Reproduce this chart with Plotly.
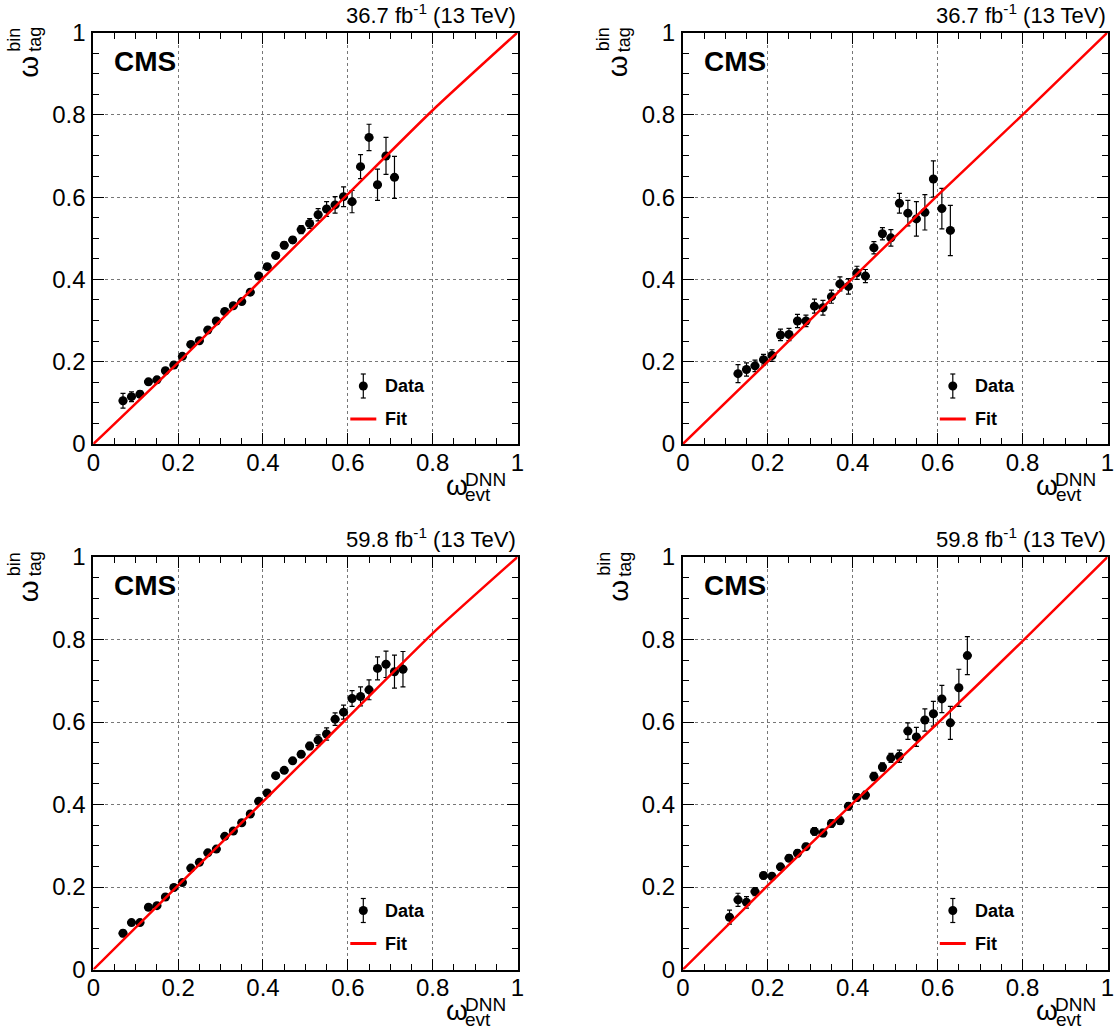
import plotly.graph_objects as go

W, H = 1120, 1036

# ---------------- data ----------------
x_tl = [0.07, 0.09, 0.11, 0.13, 0.15, 0.17, 0.19, 0.21, 0.23, 0.25, 0.27, 0.29, 0.31, 0.33, 0.35, 0.37,
        0.39, 0.41, 0.43, 0.45, 0.47, 0.49, 0.51, 0.53, 0.55, 0.57, 0.59, 0.61, 0.63, 0.65, 0.67, 0.69, 0.71]
y_tl = [0.105, 0.115, 0.121, 0.151, 0.156, 0.178, 0.192, 0.213, 0.242, 0.251, 0.277, 0.299, 0.322, 0.336,
        0.346, 0.369, 0.408, 0.431, 0.458, 0.483, 0.496, 0.521, 0.536, 0.557, 0.571, 0.581, 0.601, 0.589,
        0.674, 0.745, 0.630, 0.700, 0.648]
e_tl = [0.018, 0.012, 0.008, 0.007, 0.007, 0.006, 0.006, 0.006, 0.006, 0.006, 0.006, 0.006, 0.006, 0.006,
        0.006, 0.007, 0.007, 0.007, 0.007, 0.008, 0.008, 0.010, 0.012, 0.015, 0.018, 0.020, 0.024, 0.027,
        0.029, 0.032, 0.038, 0.045, 0.051]

x_tr = [0.13, 0.15, 0.17, 0.19, 0.21, 0.23, 0.25, 0.27, 0.29, 0.31, 0.33, 0.35, 0.37, 0.39, 0.41, 0.43,
        0.45, 0.47, 0.49, 0.51, 0.53, 0.55, 0.57, 0.59, 0.61, 0.63]
y_tr = [0.171, 0.181, 0.190, 0.205, 0.215, 0.265, 0.266, 0.299, 0.299, 0.335, 0.331, 0.358, 0.389, 0.383,
        0.416, 0.408, 0.477, 0.511, 0.501, 0.585, 0.561, 0.547, 0.563, 0.644, 0.572, 0.519]
e_tr = [0.022, 0.016, 0.014, 0.013, 0.014, 0.014, 0.015, 0.016, 0.014, 0.017, 0.018, 0.016, 0.017, 0.019,
        0.016, 0.016, 0.015, 0.015, 0.020, 0.024, 0.031, 0.042, 0.043, 0.044, 0.049, 0.061]

x_bl = [0.07, 0.09, 0.11, 0.13, 0.15, 0.17, 0.19, 0.21, 0.23, 0.25, 0.27, 0.29, 0.31, 0.33, 0.35, 0.37,
        0.39, 0.41, 0.43, 0.45, 0.47, 0.49, 0.51, 0.53, 0.55, 0.57, 0.59, 0.61, 0.63, 0.65, 0.67, 0.69,
        0.71, 0.73]
y_bl = [0.088, 0.114, 0.114, 0.151, 0.155, 0.176, 0.199, 0.211, 0.246, 0.260, 0.283, 0.292, 0.323, 0.336,
        0.356, 0.377, 0.408, 0.428, 0.470, 0.483, 0.506, 0.522, 0.542, 0.556, 0.571, 0.607, 0.624, 0.657,
        0.662, 0.678, 0.730, 0.740, 0.722, 0.728]
e_bl = [0.008, 0.006, 0.006, 0.006, 0.005, 0.005, 0.005, 0.005, 0.005, 0.005, 0.005, 0.005, 0.005, 0.005,
        0.005, 0.005, 0.005, 0.005, 0.006, 0.006, 0.006, 0.007, 0.009, 0.013, 0.015, 0.015, 0.017, 0.019,
        0.023, 0.024, 0.028, 0.032, 0.040, 0.043]

x_br = [0.11, 0.13, 0.15, 0.17, 0.19, 0.21, 0.23, 0.25, 0.27, 0.29, 0.31, 0.33, 0.35, 0.37, 0.39, 0.41,
        0.43, 0.45, 0.47, 0.49, 0.51, 0.53, 0.55, 0.57, 0.59, 0.61, 0.63, 0.65, 0.67]
y_br = [0.127, 0.169, 0.163, 0.189, 0.228, 0.226, 0.249, 0.270, 0.282, 0.298, 0.335, 0.331, 0.354, 0.361,
        0.396, 0.417, 0.423, 0.468, 0.491, 0.513, 0.517, 0.578, 0.564, 0.605, 0.620, 0.656, 0.598, 0.683,
        0.761]
e_br = [0.017, 0.016, 0.014, 0.010, 0.008, 0.008, 0.008, 0.008, 0.008, 0.008, 0.009, 0.009, 0.009, 0.009,
        0.009, 0.009, 0.009, 0.010, 0.010, 0.011, 0.015, 0.020, 0.023, 0.027, 0.030, 0.033, 0.040, 0.045,
        0.046]

fit_x = [0.0, 0.2, 0.4, 0.6, 0.8, 1.0]
fit_tl = [0.0, 0.198, 0.403, 0.607, 0.811, 1.0]
fit_tr = [0.0, 0.200, 0.403, 0.604, 0.800, 1.0]
fit_bl = [0.0, 0.204, 0.407, 0.611, 0.815, 1.0]
fit_br = [0.0, 0.204, 0.403, 0.597, 0.796, 1.0]

lumi_labels = ["36.7 fb<sup>-1</sup> (13 TeV)", "36.7 fb<sup>-1</sup> (13 TeV)",
               "59.8 fb<sup>-1</sup> (13 TeV)", "59.8 fb<sup>-1</sup> (13 TeV)"]
tick_vals = [0, 0.2, 0.4, 0.6, 0.8, 1]
tick_text = ["0", "0.2", "0.4", "0.6", "0.8", "1"]

# ---------------- layout geometry (window pixels) ----------------
panels = [
    dict(x0=93.3, x1=517.5, yt=32.5, yb=444.0, x=x_tl, y=y_tl, e=e_tl, fit=fit_tl, lumi=lumi_labels[0]),
    dict(x0=682.8, x1=1107.5, yt=32.5, yb=444.0, x=x_tr, y=y_tr, e=e_tr, fit=fit_tr, lumi=lumi_labels[1]),
    dict(x0=93.3, x1=517.5, yt=557.0, yb=969.6, x=x_bl, y=y_bl, e=e_bl, fit=fit_bl, lumi=lumi_labels[2]),
    dict(x0=682.8, x1=1107.5, yt=557.0, yb=969.6, x=x_br, y=y_br, e=e_br, fit=fit_br, lumi=lumi_labels[3]),
]

FONT = "Liberation Sans, Arial, Helvetica, sans-serif"


def px(v):
    return v / W


def py(v):
    return 1 - v / H


fig = go.Figure()
annotations = []
shapes = []
layout_axes = {}


def note(text, x, y, size, xanchor="center", angle=0, bold=False):
    annotations.append(dict(text=("<b>%s</b>" % text) if bold else text, x=px(x), y=py(y),
                            xref="paper", yref="paper", xanchor=xanchor, yanchor="middle",
                            showarrow=False, textangle=angle,
                            font=dict(family=FONT, size=size, color="black")))


for i, p in enumerate(panels):
    n = "" if i == 0 else str(i + 1)
    xa, ya = "x" + n, "y" + n
    fig.add_trace(go.Scatter(
        x=p["x"], y=p["y"], mode="markers", xaxis=xa, yaxis=ya, showlegend=False,
        marker=dict(color="black", size=9, symbol="circle"),
        error_y=dict(type="data", array=p["e"], visible=True, color="black", thickness=1.2, width=2.5),
        error_x=dict(type="constant", value=0.01, visible=True, color="black", thickness=2.5, width=0),
        name="Data"))
    fig.add_trace(go.Scatter(
        x=fit_x, y=p["fit"], mode="lines", xaxis=xa, yaxis=ya, showlegend=False,
        line=dict(color="#ff0000", width=2.5, shape="spline", smoothing=0.6), name="Fit"))

    common = dict(range=[0, 1], tickvals=tick_vals, ticktext=tick_text, ticks="inside", ticklen=11,
                  tickwidth=1, tickcolor="black", showline=True, linewidth=2, linecolor="black",
                  mirror="ticks", showgrid=True, gridcolor="#777777", griddash="dot", gridwidth=1,
                  zeroline=False, tickfont=dict(family=FONT, size=24, color="black"),
                  minor=dict(ticks="inside", ticklen=6, dtick=0.05, tickcolor="black", tickwidth=1,
                             showgrid=False),
                  automargin=False, fixedrange=True)
    layout_axes["xaxis" + n] = dict(common, domain=[px(p["x0"]), px(p["x1"])], anchor=ya,
                                    ticklabelstandoff=-4)
    layout_axes["yaxis" + n] = dict(common, domain=[py(p["yb"]), py(p["yt"])], anchor=xa,
                                    ticklabelstandoff=1)

    x0, x1, yt, yb = p["x0"], p["x1"], p["yt"], p["yb"]
    note("CMS", x0 + 19, yt + 28.5, 28, xanchor="left", bold=True)
    note(p["lumi"], x1, yt - 19, 22, xanchor="right")
    # y title omega^bin_tag (rotated)
    note("ω", x0 - 65, yt + 34, 28, angle=-90)
    note("bin", x0 - 79, yt + 7, 18, angle=-90)
    note("tag", x0 - 58, yt + 7, 18, angle=-90)
    # x title omega^DNN_evt
    note("ω", x1 - 61, yb + 41, 28)
    note("DNN", x1 - 55, yb + 35, 19, xanchor="left")
    note("evt", x1 - 54, yb + 50, 19, xanchor="left")

    # legend (drawn)
    mx, my = x0 + 270, yt + 353.5
    shapes.append(dict(type="line", xref="paper", yref="paper", x0=px(mx), x1=px(mx),
                       y0=py(my - 12), y1=py(my + 12), line=dict(color="black", width=1.2)))
    for cy in (my - 12, my + 12):
        shapes.append(dict(type="line", xref="paper", yref="paper", x0=px(mx - 2.5), x1=px(mx + 2.5),
                           y0=py(cy), y1=py(cy), line=dict(color="black", width=1.2)))
    shapes.append(dict(type="circle", xref="paper", yref="paper", x0=px(mx - 4.5), x1=px(mx + 4.5),
                       y0=py(my + 4.5), y1=py(my - 4.5), fillcolor="black", line=dict(color="black", width=0)))
    note("Data", x0 + 290, my, 18, xanchor="left", bold=True)
    fy = yt + 386.5
    shapes.append(dict(type="line", xref="paper", yref="paper", x0=px(x0 + 257), x1=px(x0 + 283),
                       y0=py(fy), y1=py(fy), line=dict(color="#ff0000", width=3)))
    note("Fit", x0 + 290, fy, 18, xanchor="left", bold=True)

fig.update_layout(
    width=W, height=H, margin=dict(l=0, r=0, t=0, b=0),
    paper_bgcolor="white", plot_bgcolor="white", showlegend=False,
    font=dict(family=FONT, color="black"),
    annotations=annotations, shapes=shapes, **layout_axes)

# remove the browser's default 8px page margin so the figure fills the window exactly
fig.write_html("out.html", config={"displayModeBar": False, "staticPlot": True},
               post_script="document.body.style.margin='0';document.body.style.overflow='hidden';")
